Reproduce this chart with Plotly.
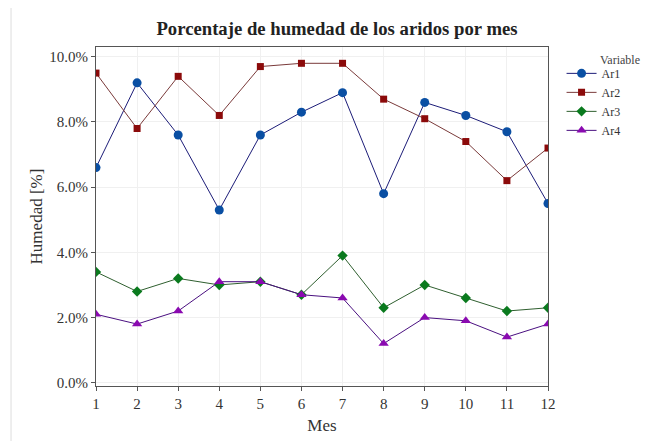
import plotly.graph_objects as go

meses = list(range(1, 13))
ar1 = [6.6, 9.2, 7.6, 5.3, 7.6, 8.3, 8.9, 5.8, 8.6, 8.2, 7.7, 5.5]
ar2 = [9.5, 7.8, 9.4, 8.2, 9.7, 9.8, 9.8, 8.7, 8.1, 7.4, 6.2, 7.2]
ar3 = [3.4, 2.8, 3.2, 3.0, 3.1, 2.7, 3.9, 2.3, 3.0, 2.6, 2.2, 2.3]
ar4 = [2.1, 1.8, 2.2, 3.1, 3.1, 2.7, 2.6, 1.2, 2.0, 1.9, 1.4, 1.8]

series = [
    ("Ar1", ar1, "#1c1c78", "#0a4fa3", "circle", 9),
    ("Ar2", ar2, "#7a3a3a", "#8b0a0a", "square", 7),
    ("Ar3", ar3, "#2f5f2f", "#0a7a1e", "diamond", 8),
    ("Ar4", ar4, "#4a1080", "#8a0ab0", "triangle-up", 9),
]

fig = go.Figure()
for name, vals, lc, mc, sym, sz in series:
    fig.add_trace(go.Scatter(
        x=meses, y=[v / 100 for v in vals], name=name, mode="lines+markers",
        line=dict(color=lc, width=1),
        marker=dict(color=mc, symbol=sym, size=sz),
    ))

# the page has an 8px body margin, so the figure is drawn 8px smaller
W, H = 648, 433
font = "Liberation Serif"
fig.update_layout(
    width=W, height=H,
    margin=dict(l=88, r=108, t=39, b=55),
    paper_bgcolor="white", plot_bgcolor="white",
    font=dict(family=font, size=15, color="#333"),
    title=dict(text="<b>Porcentaje de humedad de los aridos por mes</b>",
               x=(337 - 8) / W, xanchor="center", y=1 - 20 / H, yanchor="middle",
               font=dict(size=18.7, color="#222")),
    legend=dict(x=1.03, y=0.965, xanchor="left", yanchor="top",
                font=dict(size=12), tracegroupgap=0, itemwidth=30),
    xaxis=dict(range=[1, 12], tickvals=meses, showgrid=True, gridcolor="#f0f0f0",
               showline=True, linecolor="#555", mirror=True, ticks="outside",
               ticklen=4, tickcolor="#555", zeroline=False, automargin=False,
               title=dict(text="Mes", font=dict(size=17), standoff=8)),
    yaxis=dict(range=[-0.001, 0.103], tickvals=[0, 0.02, 0.04, 0.06, 0.08, 0.10],
               tickformat=".1%", showgrid=True, gridcolor="#f0f0f0",
               showline=True, linecolor="#555", mirror=True, ticks="outside",
               ticklen=4, tickcolor="#555", zeroline=False, automargin=False,
               title=dict(text="Humedad [%]", font=dict(size=17), standoff=2)),
)
fig.add_annotation(text="Variable", xref="paper", yref="paper", x=1.11, y=0.962,
                   xanchor="left", yanchor="middle", showarrow=False,
                   font=dict(size=12, color="#444"))
fig.add_shape(type="rect", xref="paper", yref="paper", x0=-0.188, x1=1.26, y0=-0.18, y1=1.124,
              line=dict(color="#dddddd", width=1), fillcolor="rgba(0,0,0,0)", layer="below")

fig.write_html("out.html")
